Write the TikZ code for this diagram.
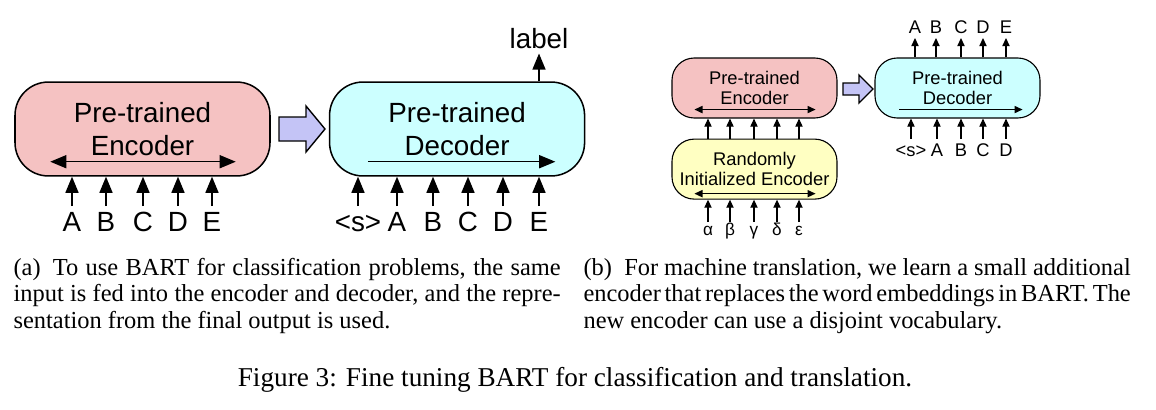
\documentclass[tikz,border=0pt]{standalone}
\usepackage{fontspec}
\setmainfont{Liberation Serif}
\newfontfamily\diagfont{Liberation Sans}
\usetikzlibrary{arrows.meta,positioning}
\definecolor{encpink}{RGB}{245,194,194}
\definecolor{deccyan}{RGB}{204,255,255}
\definecolor{randyellow}{RGB}{255,255,194}
\definecolor{handblue}{RGB}{196,196,246}
\newcommand\capsetup{\noindent\spaceskip=0.25em plus 0.25em minus 0.1em\relax\strut}

\begin{document}
\begin{tikzpicture}[x=0.36pt,y=-0.36pt,
    encbox/.style={draw,line width=0.55pt,fill=encpink,rounded corners=12pt,
        minimum width=91.8pt,minimum height=33.8pt,inner sep=0pt,align=center,
        font=\diagfont\fontsize{10}{11.9}\selectfont},
    decbox/.style={encbox,fill=deccyan},
    smallbox/.style={draw,line width=0.4pt,rounded corners=8pt,
        minimum width=59.4pt,minimum height=21.6pt,inner sep=0pt,align=center,
        font=\diagfont\fontsize{6.6}{7.2}\selectfont},
    tok/.style={font=\diagfont\fontsize{10}{12}\selectfont,inner sep=0pt,
        outer sep=1.8pt,text height=7.2pt,text depth=0pt},
    smalltok/.style={font=\diagfont\fontsize{6.6}{8}\selectfont,inner sep=0pt,
        outer sep=1.5pt,text height=4.7pt,text depth=0pt},
    greektok/.style={smalltok,font=\diagfont\fontsize{6.2}{8}\selectfont,text height=3.2pt},
    feed/.style={-{Triangle[length=5.8pt,width=4.7pt]},line width=0.5pt},
    bothfeed/.style={{Triangle[length=5.8pt,width=4.7pt]}-{Triangle[length=5.8pt,width=4.7pt]},line width=0.5pt},
    smallfeed/.style={-{Triangle[length=2.9pt,width=2.6pt]},line width=0.4pt},
    smallboth/.style={{Triangle[length=2.9pt,width=2.6pt]}-{Triangle[length=2.9pt,width=2.6pt]},line width=0.4pt},
    handover/.style={draw,line width=0.5pt,fill=handblue},
    subcap/.style={anchor=north west,inner sep=0pt,text width=197pt,align=justify,
        font=\fontsize{8.8}{9.5}\selectfont}
]
 \useasboundingbox (0,0) rectangle (1156,410);

 \node[encbox] (enc) at (142.5,129) {Pre-trained\\Encoder};
 \node[decbox,right=20.9pt of enc] (dec) {Pre-trained\\Decoder};
 \draw[handover] (279,117) -- (306,117) -- (306,106) -- (325,129) -- (306,152) -- (306,141) -- (279,141) -- cycle;
 \draw[bothfeed] ([shift={(36,-15)}]enc.south west) -- ([shift={(-35,-15)}]enc.south east);
 \draw[feed] ([shift={(39,-15)}]dec.south west) -- ([shift={(-30,-15)}]dec.south east);
 \foreach \x/\t [count=\i] in {72/A,106/B,143/C,178/D,212/E} {
    \node[tok] (ein\i) at (\x,221) {\t};
    \draw[feed] (ein\i.north) -- (ein\i |- enc.south);
 }
 \foreach \x/\t [count=\i] in {358/<s>,397/A,433/B,468/C,503/D,539/E} {
    \node[tok] (din\i) at (\x,221) {\t};
    \draw[feed] (din\i.north) -- (din\i |- dec.south);
 }
 \node[tok] (lbl) at (539,38.5) {label};
 \draw[feed] (lbl |- dec.north) -- (lbl.south);

 \node[smallbox,fill=encpink] (penc) at (754.5,88) {Pre-trained\\Encoder};
 \node[smallbox,fill=randyellow,below=7.2pt of penc] (rnd) {Randomly\\Initialized Encoder};
 \node[smallbox,fill=deccyan] (pdec) at (957.5,88) {Pre-trained\\Decoder};
 \draw[handover] (843,83) -- (859,83) -- (859,75) -- (873,89) -- (859,103) -- (859,95) -- (843,95) -- cycle;
 \draw[smallboth] ([shift={(23,-9)}]penc.south west) -- ([shift={(-22,-9)}]penc.south east);
 \draw[smallboth] ([shift={(23,-6)}]rnd.south west) -- ([shift={(-22,-6)}]rnd.south east);
 \draw[smallfeed] ([shift={(25,-9)}]pdec.south west) -- ([shift={(-18,-9)}]pdec.south east);
 \foreach \x/\t [count=\i] in {708/α,730/β,754/γ,777/δ,799/ε} {
    \node[greektok] (g\i) at (\x,230.7) {\t};
    \draw[smallfeed] (g\i.north) -- (g\i |- rnd.south);
    \draw[smallfeed] (g\i |- rnd.north) -- (g\i |- penc.south);
 }
 \foreach \x/\t [count=\i] in {911/<s>,937/A,961/B,983/C,1006/D} {
    \node[smalltok] (pin\i) at (\x,149.5) {\t};
    \draw[smallfeed] (pin\i.north) -- (pin\i |- pdec.south);
 }
 \foreach \x/\t [count=\i] in {915/A,936/B,961/C,983/D,1006/E} {
    \node[smalltok] (pout\i) at (\x,27.3) {\t};
    \draw[smallfeed] (pout\i |- pdec.north) -- (pout\i.south);
 }

 \node[subcap] (capa) at (13,256.5) {\capsetup(a)\hskip0.5em To use BART for classification problems, the same\linebreak input is fed into the encoder and decoder, and the repre-\linebreak sentation from the final output is used.};
 \node[subcap] (capb) at (583,256.5) {\capsetup(b)\hskip0.5em For machine translation, we learn a small additional\linebreak encoder that replaces the word embeddings in BART. The\linebreak new encoder can use a disjoint vocabulary.};
 \node[anchor=base,inner sep=0pt,font=\fontsize{9.8}{12}\selectfont] (figcap) at (575,386) {Figure 3: Fine tuning BART for classification and translation.};
\end{tikzpicture}
\end{document}
